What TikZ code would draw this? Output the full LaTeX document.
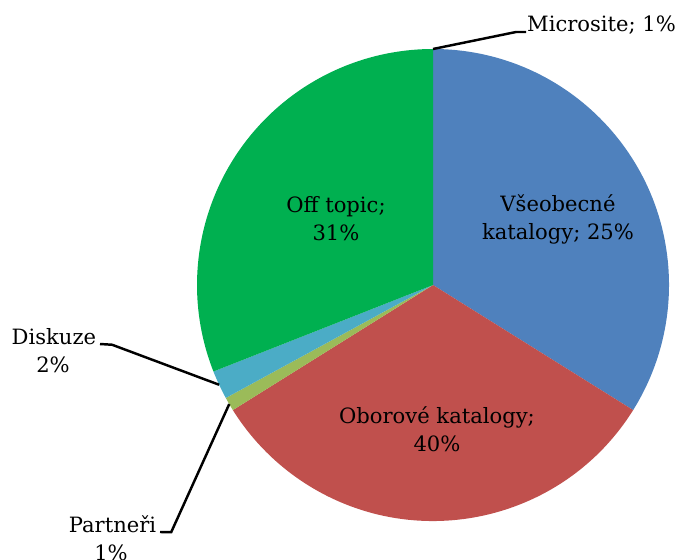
\documentclass[tikz,border=0pt]{standalone}
\usepackage{fontspec}
\setmainfont{DejaVu Serif}
\usetikzlibrary{calc,positioning}
\definecolor{vseobecne}{HTML}{4F81BD}
\definecolor{oborove}{HTML}{C0504D}
\definecolor{partneri}{HTML}{9BBB59}
\definecolor{diskuze}{HTML}{4BACC6}
\definecolor{offtopic}{HTML}{00B050}
\newcommand{\pieslice}[3]{
  % one slice of the pie round (c), radius 236
  % parameter 1: fill colour
  % parameter 2: start angle
  % parameter 3: end angle
  \fill[#1] (c) -- ($(c)+(#2:236)$) arc[start angle=#2, end angle=#3, radius=236] -- cycle;
}
\begin{document}
\begin{tikzpicture}[x=0.02cm, y=0.02cm,
    every node/.style={font=\fontsize{12}{15.9}\selectfont},
    leader/.style={line width=1.4pt, black},
    outlabel/.style={inner xsep=2pt}]
  \useasboundingbox (0,0) rectangle (678,559);
  \coordinate (c) at (433,274);
  \pieslice{vseobecne}{90}{-32}
  \pieslice{oborove}{-32}{-148}
  \pieslice{partneri}{-148}{-151.4}
  \pieslice{diskuze}{-151.4}{-158.5}
  \pieslice{offtopic}{-158.5}{-270}
  % labels inside the pie
  \node[align=center] (vse) at (558,340) {Všeobecné\\katalogy; 25\%};
  \node[align=center] (obo) at (437,130) {Oborové katalogy;\\40\%};
  \node[align=center] (off) at (336,340) {Off topic;\\31\%};
  % labels outside with leader lines
  \coordinate (pmicro) at ($(c)+(90:236)$);
  \coordinate (pdisk) at ($(c)+(-155:236)$);
  \coordinate (ppart) at ($(c)+(-149.7:236)$);
  \node[outlabel, inner xsep=0.5pt, anchor=base west] (micro) at (526,527) {Microsite; 1\%};
  \node[outlabel, anchor=base east] (disk) at (100,215) {Diskuze};
  \node[anchor=base] (diskpct) at (53,187) {2\%};
  \node[outlabel, anchor=base east] (part) at (160,27) {Partneři};
  \node[anchor=base] (partpct) at (111,-1) {1\%};
  \draw[leader] (pmicro) -- ++(83,17) -- (micro.base west);
  \draw[leader] (pdisk) -- ++(-107,40) -- (disk.base east);
  \draw[leader] (ppart) -- ++(-58,-128) -- (part.base east);
\end{tikzpicture}
\end{document}
